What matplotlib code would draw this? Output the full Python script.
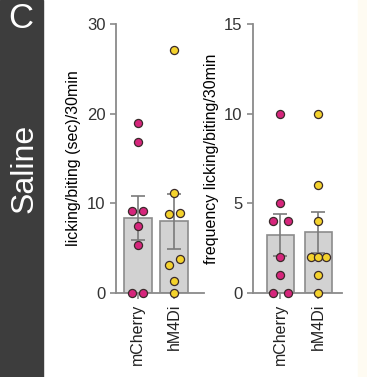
import matplotlib
matplotlib.use('Agg')
import numpy as np
import matplotlib.pyplot as plt
from matplotlib.patches import Rectangle

plt.rcParams['font.family'] = ['Liberation Sans', 'DejaVu Sans']

# Dados
grupos = ['mCherry', 'hM4Di']
cores = ['#d6257c', '#f4d22c']

tempo_mcherry = [19.0, 16.8, 9.1, 9.2, 7.5, 5.3, 0.0, 0.0]
tempo_hm4di = [27.1, 11.1, 8.8, 8.9, 3.1, 3.8, 1.3, 0.0]
tempo_offsets_mcherry = [0, 0, -0.15, 0.15, 0, 0, -0.15, 0.15]
tempo_offsets_hm4di = [0, 0, -0.15, 0.15, -0.15, 0.15, 0, 0]

freq_mcherry = [10, 5, 4, 4, 2, 1, 0, 0]
freq_hm4di = [10, 6, 4, 2, 2, 2, 1, 0]
freq_offsets_mcherry = [0, 0, -0.2, 0.2, 0, 0, -0.2, 0.2]
freq_offsets_hm4di = [0, 0, 0, -0.2, 0, 0.2, 0, 0]

cinza_barra = '#d2d2d2'
cinza_borda = '#8c8c8c'
cinza_eixo = '#8a8a8a'


def painel(ax, dados, offsets, ylim, yticks, ylabel, xlim, largura):
    for i, (vals, offs) in enumerate(zip(dados, offsets)):
        vals = np.array(vals)
        media = vals.mean()
        sem = vals.std(ddof=1) / np.sqrt(len(vals))
        ax.bar(i, media, width=largura, color=cinza_barra, edgecolor=cinza_borda,
               linewidth=1.2, zorder=1)
        ax.errorbar(i, media, yerr=sem, color='#7a7a7a', capsize=5, elinewidth=1.2,
                    capthick=1.2, zorder=2)
        ax.scatter(np.array(offs) + i, vals, s=34, color=cores[i], edgecolors='#3a2a2a',
                   linewidths=0.9, zorder=3, clip_on=False)
    ax.set_xlim(*xlim)
    ax.set_ylim(*ylim)
    ax.set_yticks(yticks)
    ax.set_xticks(range(len(grupos)))
    ax.set_xticklabels(grupos, rotation=90, fontsize=11.5)
    ax.set_ylabel(ylabel, fontsize=11.5, labelpad=4)
    ax.tick_params(axis='y', labelsize=12, color=cinza_eixo, width=1.2, length=4,
                   labelcolor='#333333')
    ax.tick_params(axis='x', color=cinza_eixo, width=1.2, length=4, labelcolor='#222222')
    for lado in ['top', 'right']:
        ax.spines[lado].set_visible(False)
    for lado in ['left', 'bottom']:
        ax.spines[lado].set_color(cinza_eixo)
        ax.spines[lado].set_linewidth(1.3)
    ax.patch.set_alpha(0)


fig = plt.figure(figsize=(3.67, 3.77), dpi=100)

# Faixa escura lateral com "C" e "Saline"
fig.patches.append(Rectangle((0, 0), 43 / 367, 1, transform=fig.transFigure,
                             color='#3d3d3d', zorder=0))
fig.patches.append(Rectangle((358 / 367, 0), 9 / 367, 1, transform=fig.transFigure,
                             color='#fefbf2', zorder=0))
fig.text(21 / 367, 1 - 19 / 377, 'C', color='white', fontsize=25, ha='center', va='center')
fig.text(25 / 367, 1 - 168 / 377, 'Saline', color='white', fontsize=23, rotation=90,
         ha='center', va='center')

ax1 = fig.add_axes([116 / 367, 84 / 377, 88 / 367, 269 / 377])
painel(ax1, [tempo_mcherry, tempo_hm4di], [tempo_offsets_mcherry, tempo_offsets_hm4di],
       (0, 30), [0, 10, 20, 30], 'licking/biting (sec)/30min', (-0.6, 1.81), 0.77)

ax2 = fig.add_axes([253 / 367, 84 / 377, 89 / 367, 269 / 377])
painel(ax2, [freq_mcherry, freq_hm4di], [freq_offsets_mcherry, freq_offsets_hm4di],
       (0, 15), [0, 5, 10, 15], 'frequency licking/biting/30min', (-0.72, 1.62), 0.71)

fig.savefig('out.png', dpi=100)
